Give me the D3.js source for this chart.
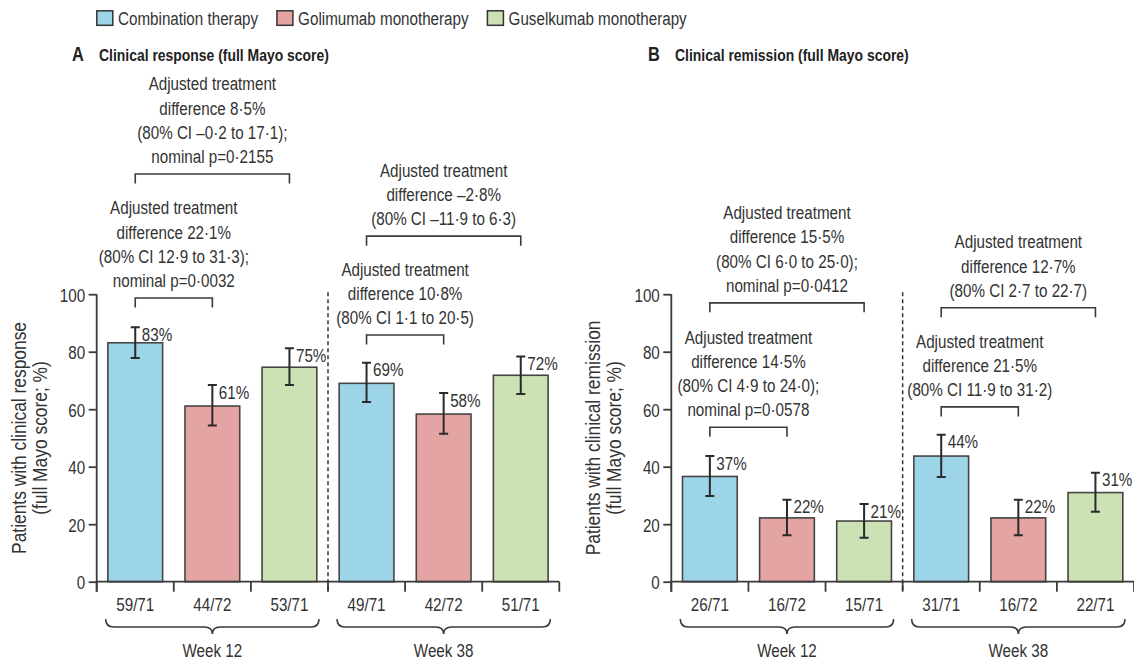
<!DOCTYPE html>
<html>
<head>
<meta charset="utf-8">
<script src="https://cdn.jsdelivr.net/npm/d3@7"></script>
<style>
  html, body { margin: 0; padding: 0; background: #fff; }
  svg { display: block; }
  text { font-family: "Liberation Sans", Arial, sans-serif; fill: #333; }
</style>
</head>
<body>
<svg id="chart" width="1134" height="661"></svg>
<script>
// ---- Data ----
const treatments = ["Combination therapy", "Golimumab monotherapy", "Guselkumab monotherapy"];
const weeks = ["Week 12", "Week 38"];

// Clinical response (full Mayo score), % of patients, with 80% CI bounds
const responseFractions = ["59/71", "44/72", "53/71", "49/71", "42/72", "51/71"];
const responseValues = [83.1, 61.1, 74.6, 69.0, 58.3, 71.8];
const responseLow = [77.8, 54.3, 68.4, 62.5, 51.5, 65.3];
const responseHigh = [88.5, 68.4, 81.2, 76.2, 65.6, 78.3];

// Clinical remission (full Mayo score), % of patients, with 80% CI bounds
const remissionFractions = ["26/71", "16/72", "15/71", "31/71", "16/72", "22/71"];
const remissionValues = [36.6, 22.2, 21.1, 43.7, 22.2, 31.0];
const remissionLow = [29.8, 16.2, 15.3, 36.4, 16.2, 24.3];
const remissionHigh = [43.7, 28.5, 27.0, 51.1, 28.5, 37.9];

const yTicks = [0, 20, 40, 60, 80, 100];

// Pairwise comparisons: bar index pairs and annotation text
const responseComparisons = [
  { from: 0, to: 1, lines: ["Adjusted treatment", "difference 22·1%", "(80% CI 12·9 to 31·3);", "nominal p=0·0032"] },
  { from: 0, to: 2, lines: ["Adjusted treatment", "difference 8·5%", "(80% CI –0·2 to 17·1);", "nominal p=0·2155"] },
  { from: 3, to: 4, lines: ["Adjusted treatment", "difference 10·8%", "(80% CI 1·1 to 20·5)"] },
  { from: 3, to: 5, lines: ["Adjusted treatment", "difference –2·8%", "(80% CI –11·9 to 6·3)"] }
];
const remissionComparisons = [
  { from: 0, to: 1, lines: ["Adjusted treatment", "difference 14·5%", "(80% CI 4·9 to 24·0);", "nominal p=0·0578"] },
  { from: 0, to: 2, lines: ["Adjusted treatment", "difference 15·5%", "(80% CI 6·0 to 25·0);", "nominal p=0·0412"] },
  { from: 3, to: 4, lines: ["Adjusted treatment", "difference 21·5%", "(80% CI 11·9 to 31·2)"] },
  { from: 3, to: 5, lines: ["Adjusted treatment", "difference 12·7%", "(80% CI 2·7 to 22·7)"] }
];

// ---- Layout ----
const colors = ["#9dd5e8", "#e3a4a3", "#cce1b4"];
const ink = "#3a3a3a";
const yTop = 294.2, yBottom = 581.7;
const FS = 19;        // body text size
const SX = 0.8;       // horizontal condensing of the sans face
// bracket heights (in axis units) for each comparison
const responseBracketLevels = [98.7, 141.8, 85.8, 120.2];
const remissionBracketLevels = [53.7, 97.0, 60.8, 95.3];

const svg = d3.select("#chart");

// condensed text helper: text drawn at (x,y), squeezed horizontally
function label(parent, x, y, str, o = {}) {
  const rot = o.rotate ? ` rotate(${o.rotate})` : "";
  const t = parent.append("text")
    .attr("transform", `translate(${x},${y})${rot} scale(${o.sx || SX},1)`)
    .attr("text-anchor", o.anchor || "start")
    .style("font-size", (o.size || FS) + "px")
    .text(str);
  if (o.weight) t.style("font-weight", o.weight);
  if (o.fill) t.style("fill", o.fill);
  return t;
}

function drawPanel(opt) {
  const g = svg.append("g");
  const n = opt.fractions.length;
  const x = d3.scaleBand().domain(d3.range(n)).range([opt.x0, opt.x1])
    .paddingInner(0.29).paddingOuter(0.145);
  const y = d3.scaleLinear().domain([0, 100]).range([yBottom, yTop]);
  const step = x.step();
  const cx = i => x(i) + x.bandwidth() / 2;

  // panel letter + title
  label(g, opt.letterX, 61, opt.letter, { size: 21, weight: "bold", fill: "#222", sx: 0.78 });
  label(g, opt.letterX + 27, 60.5, opt.title, { size: 17, weight: "bold", fill: "#222", sx: 0.82 });

  // y axis
  const yAxis = d3.axisLeft(y).tickValues(yTicks).tickSize(8).tickPadding(3).tickFormat(d3.format("d"));
  const ya = g.append("g").attr("transform", `translate(${opt.x0},0)`).call(yAxis);
  ya.attr("font-family", null).attr("font-size", null);
  ya.select(".domain").attr("d", `M0,${yTop}V${yBottom + 10}`).attr("stroke", ink).attr("stroke-width", 1.8);
  ya.selectAll(".tick line").attr("stroke", ink).attr("stroke-width", 1.8);
  ya.selectAll(".tick text")
    .attr("x", -11.5 / SX).attr("dy", "0.36em")
    .attr("transform", `scale(${SX},1)`)
    .style("font-size", FS + "px").attr("fill", "#333");

  // y axis title (two lines)
  const yc = (yTop + yBottom) / 2;
  opt.yTitle.forEach((line, k) => {
    label(g, opt.x0 - 71 + k * 21, yc, line, { anchor: "middle", rotate: -90, size: 20, sx: 0.87 });
  });

  // bars
  g.selectAll("rect.bar").data(opt.values).join("rect")
    .attr("class", "bar")
    .attr("x", (d, i) => x(i)).attr("width", x.bandwidth())
    .attr("y", d => y(d)).attr("height", d => y(0) - y(d))
    .attr("fill", (d, i) => colors[i % 3]).attr("stroke", "#444").attr("stroke-width", 1.6);

  // error bars and value labels
  const cap = 4.5;
  opt.values.forEach((v, i) => {
    const lo = y(opt.low[i]), hi = y(opt.high[i]), c = cx(i);
    g.append("path")
      .attr("d", `M${c},${hi}V${lo}M${c - cap},${hi}H${c + cap}M${c - cap},${lo}H${c + cap}`)
      .attr("stroke", "#2a2a2a").attr("stroke-width", 2).attr("fill", "none");
    label(g, c + 6.5, hi + 13.5, Math.round(v) + "%");
  });

  // x axis line with category ticks
  const boundaries = d3.range(n + 1).map(i => opt.x0 + i * step);
  g.append("path").attr("d", `M${opt.x0},${yBottom}H${opt.x1}`)
    .attr("stroke", ink).attr("stroke-width", 1.8);
  g.selectAll("line.xt").data(boundaries).join("line").attr("class", "xt")
    .attr("x1", d => d).attr("x2", d => d).attr("y1", yBottom).attr("y2", yBottom + 10)
    .attr("stroke", ink).attr("stroke-width", 1.8);

  // dashed separator between weeks
  const sep = boundaries[3];
  g.append("line").attr("x1", sep).attr("x2", sep).attr("y1", yTop - 2).attr("y2", yBottom + 10)
    .attr("stroke", "#333").attr("stroke-width", 1.5).attr("stroke-dasharray", "4,3");

  // category labels
  opt.fractions.forEach((f, i) => label(g, cx(i), 611, f, { anchor: "middle" }));

  // braces + week labels
  weeks.forEach((w, k) => {
    const a = boundaries[k * 3] + 9, b = boundaries[k * 3 + 3] - 9, m = (a + b) / 2;
    const t = 619, mid = 627, tip = 634, r = 8;
    g.append("path")
      .attr("d", `M${a},${t}Q${a},${mid} ${a + r},${mid}L${m - r},${mid}Q${m},${mid} ${m},${tip}` +
                 `Q${m},${mid} ${m + r},${mid}L${b - r},${mid}Q${b},${mid} ${b},${t}`)
      .attr("fill", "none").attr("stroke", ink).attr("stroke-width", 1.6);
    label(g, m, 657, w, { anchor: "middle" });
  });

  // comparison brackets + annotations
  opt.comparisons.forEach((cmp, k) => {
    const by = y(opt.levels[k]);
    const a = cx(cmp.from), b = cx(cmp.to);
    g.append("path").attr("d", `M${a},${by + 9.5}V${by}H${b}V${by + 9.5}`)
      .attr("fill", "none").attr("stroke", ink).attr("stroke-width", 1.6);
    const nL = cmp.lines.length;
    cmp.lines.forEach((line, j) => {
      label(g, (a + b) / 2, by - 11 - (nL - 1 - j) * 24.2, line, { anchor: "middle" });
    });
  });
}

drawPanel({
  letter: "A", letterX: 72, title: "Clinical response (full Mayo score)",
  x0: 96.7, x1: 559.3,
  fractions: responseFractions, values: responseValues, low: responseLow, high: responseHigh,
  comparisons: responseComparisons, levels: responseBracketLevels,
  yTitle: ["Patients with clinical response", "(full Mayo score; %)"]
});
drawPanel({
  letter: "B", letterX: 648, title: "Clinical remission (full Mayo score)",
  x0: 671.3, x1: 1134,
  fractions: remissionFractions, values: remissionValues, low: remissionLow, high: remissionHigh,
  comparisons: remissionComparisons, levels: remissionBracketLevels,
  yTitle: ["Patients with clinical remission", "(full Mayo score; %)"]
});

// legend
const legend = svg.append("g");
let lx = 96;
treatments.forEach((t, i) => {
  legend.append("rect").attr("x", lx + 0.8).attr("y", 10.8).attr("width", 16).attr("height", 14.5)
    .attr("fill", colors[i]).attr("stroke", "#333").attr("stroke-width", 1.5);
  const txt = label(legend, lx + 22, 24.5, t);
  lx += 22 + txt.node().getComputedTextLength() * SX + 18;
});
</script>
</body>
</html>
